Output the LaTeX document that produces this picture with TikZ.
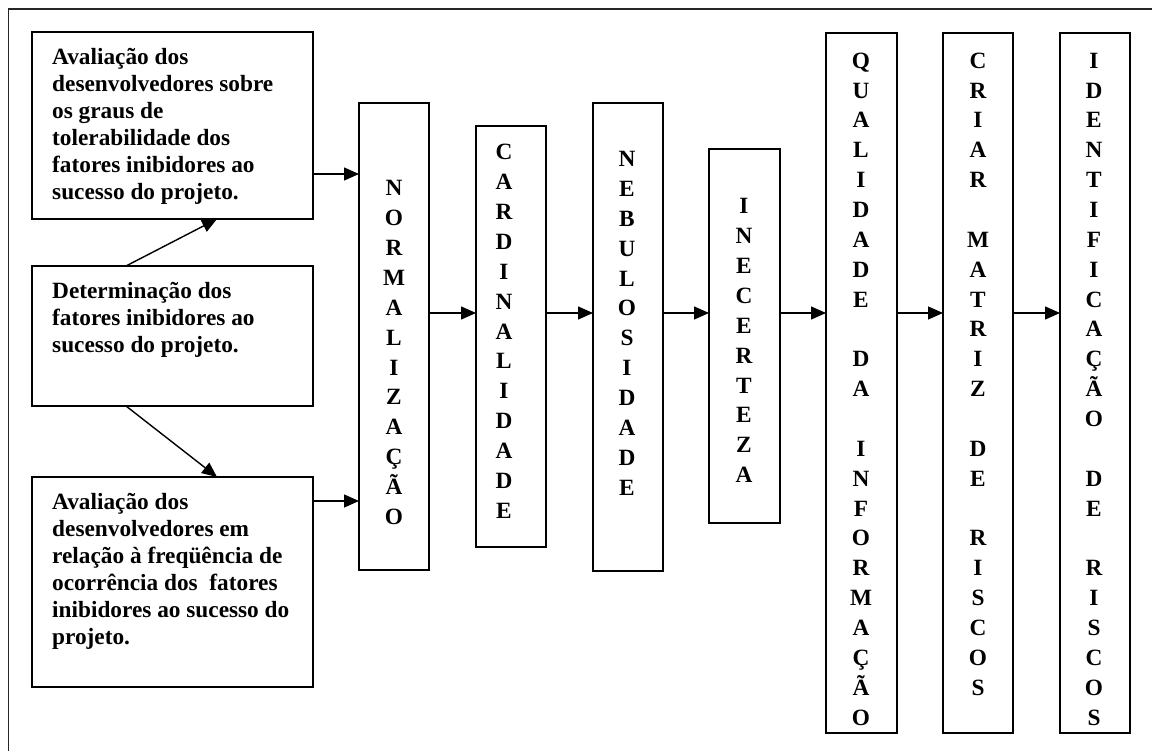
\documentclass[tikz,border=0pt]{standalone}
\usepackage{fontspec}
\setmainfont{Liberation Serif}
\usetikzlibrary{arrows.meta}
\newcommand\mkcol[4]{%
  \foreach \l [count=\i] in {#4} {\node[vl] (#1-\i) at (#2,{#3+(\i-1)*29.85}) {\l};}}
\newcommand\mklines[4]{%
  \foreach \l [count=\i] in {#4} {\node[tl] (#1-\i) at (#2,{#3+(\i-1)*27}) {\l};}}
\begin{document}
\begin{tikzpicture}[x=1pt,y=-1pt,
  box/.style={draw,line width=1.8pt,inner sep=0pt,outer sep=0pt},
  vl/.style={anchor=base,inner sep=0pt,font=\fontsize{23.3}{28}\selectfont\bfseries},
  tl/.style={anchor=base west,inner sep=0pt,font=\fontsize{23.3}{27}\selectfont\bfseries},
  conn/.style={line width=1.4pt,-{Triangle[length=15pt,width=13pt]}}]
\useasboundingbox (0,0) rectangle (1152,751);
% outer frame (only top and left edges visible)
\draw[line width=1.8pt,black!85] (8.5,751) -- (8.5,9) -- (1152,9);
% left boxes
\node[box,minimum width=281pt,minimum height=187pt] (ava1) at (172.5,125.5) {};
\node[box,minimum width=281pt,minimum height=140pt] (det) at (172.5,336) {};
\node[box,minimum width=281pt,minimum height=210pt] (ava2) at (172.5,582) {};
% vertical boxes
\node[box,minimum width=70pt,minimum height=467pt] (norm) at (394,336.5) {};
\node[box,minimum width=70pt,minimum height=421pt] (card) at (511,336.5) {};
\node[box,minimum width=70pt,minimum height=468pt] (neb) at (628,337) {};
\node[box,minimum width=71pt,minimum height=374pt] (inc) at (744.5,336) {};
\node[box,minimum width=71pt,minimum height=700pt] (qual) at (861.5,383) {};
\node[box,minimum width=70pt,minimum height=700pt] (criar) at (978,383) {};
\node[box,minimum width=70pt,minimum height=700pt] (ident) at (1095,383) {};
% texts of left boxes
\mklines{t1}{52}{65}{Avaliação dos,desenvolvedores sobre,os graus de,tolerabilidade dos,fatores inibidores ao,sucesso do projeto.}
\mklines{t2}{52}{299}{Determinação dos,fatores inibidores ao,sucesso do projeto.}
\mklines{t3}{52}{509}{Avaliação dos,desenvolvedores em,relação à freqüência de,ocorrência dos\ \ fatores,inibidores ao sucesso do,projeto.}
% vertical texts
\mkcol{c1}{394}{196}{N,O,R,M,A,L,I,Z,A,Ç,Ã,O}
\mkcol{c2}{504}{160}{C,A,R,D,I,N,A,L,I,D,A,D,E}
\mkcol{c3}{627}{166.7}{N,E,B,U,L,O,S,I,D,A,D,E}
\mkcol{c4}{744}{214}{I,N,E,C,E,R,T,E,Z,A}
\mkcol{c5}{861}{68.3}{Q,U,A,L,I,D,A,D,E,{},D,A,{},I,N,F,O,R,M,A,Ç,Ã,O}
\mkcol{c6}{978}{68.3}{C,R,I,A,R,{},M,A,T,R,I,Z,{},D,E,{},R,I,S,C,O,S}
\mkcol{c7}{1094}{68.3}{I,D,E,N,T,I,F,I,C,A,Ç,Ã,O,{},D,E,{},R,I,S,C,O,S}
% connectors
\coordinate (chain) at (0,313);
\draw[conn] ([yshift=45pt]ava1.south east) -- ([yshift=45pt]ava1.south east -| norm.west);
\draw[conn] ([yshift=-24pt]ava2.north east) -- ([yshift=-24pt]ava2.north east -| norm.west);
\draw[conn] ([xshift=-46.5pt]det.north) -- ([xshift=44.5pt]ava1.south);
\draw[conn] ([xshift=-46.5pt]det.south) -- ([xshift=44.5pt]ava2.north);
\draw[conn] (norm.east |- chain) -- (card.west |- chain);
\draw[conn] (card.east |- chain) -- (neb.west |- chain);
\draw[conn] (neb.east |- chain) -- (inc.west |- chain);
\draw[conn] (inc.east |- chain) -- (qual.west |- chain);
\draw[conn] (qual.east |- chain) -- (criar.west |- chain);
\draw[conn] (criar.east |- chain) -- (ident.west |- chain);
\end{tikzpicture}
\end{document}
